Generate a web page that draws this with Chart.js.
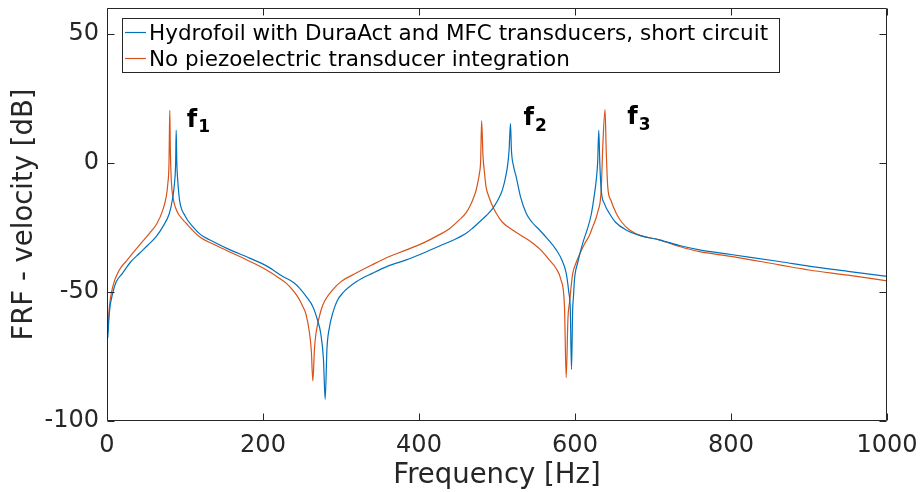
<!DOCTYPE html>
<html><head><meta charset="utf-8">
<script src="https://cdn.jsdelivr.net/npm/chart.js@4/dist/chart.umd.min.js"></script>
<style>html,body{margin:0;padding:0;background:#fff;}#wrap{width:922px;height:492px;}</style>
</head><body><div id="wrap"><canvas id="c" width="922" height="492"></canvas></div>
<script>
// ---- data ----
const seriesLabels = [
  'Hydrofoil with DuraAct and MFC transducers, short circuit',
  'No piezoelectric transducer integration'
];
const freqShort = [1,3,7.4,12,20,30,41.7,52,63,72,80,84,86.5,88,88.7,89.5,91,93,100,110,120,131.4,155,182.7,205,225.4,240,246.8,256,263.8,270,274,277.5,279.7,282,285,289.5,295,302.3,320,340.8,360,383.6,405,426.3,445,460.5,469,477,486,494.6,501,505,507.4,511,513.8,515.5,517.3,518.5,521,524.6,530,537.4,545,554.5,565,576,583,588.7,592,594,595.5,597,598,599.4,603.6,610,616,620.8,625,627.2,629,630.5,631.8,633.6,638,644,652,665.6,685,708,734,759.6,800,862,900,950,1000];
const dbShort   = [-67.8,-58,-50.4,-46,-42.7,-38.5,-35,-32,-28.6,-24.5,-19.5,-14,-8,0,12.6,0,-8,-14.4,-20.5,-24.7,-27.8,-29.8,-33.3,-36.9,-40,-44,-46.5,-48.5,-52,-55.6,-61,-66,-76,-91.6,-72,-64,-58.1,-53.5,-50.4,-46,-42.7,-40,-37.6,-35,-32.2,-29.8,-27.3,-25.2,-23,-20.5,-17.6,-14.5,-12,-10,-5.5,-0.5,5,15.3,5,-1,-5.4,-13,-19.5,-23,-26,-29.5,-33.7,-37.5,-42.7,-50,-57,-80,-57,-52,-45,-38.5,-31,-25.5,-20,-12,-6.7,0,12.6,0,-10.5,-16,-19.5,-23,-26,-28.3,-29.8,-32,-33.7,-35.5,-38.2,-40,-42,-44];
const freqNone = [1,3,7.4,16,25,33,44,54.5,64,71.5,76,78,79.5,80,80.5,81.2,82.5,84.4,88,92,101.5,118.6,140,161,182,204,220,229.7,240,246.8,251,255,259.6,262,263.9,266,268,274.6,280,289.5,300,319.5,340,362,383,405,425,439,452,460.5,466,470,473,475.5,477.5,479,480.3,482,484,486,490,494,499,507,520,533,546,557,567,576,582,586.5,588.7,591,593,597,601,605.8,612,618.6,622.8,629.2,633.6,635.6,638.5,640,642,646,652.8,660,670,685,708,734,759.6,800,862,900,950,1000];
const dbNone   = [-65.8,-56,-47.9,-41.4,-38,-35,-31,-27.3,-23.5,-18.3,-13,-8,0,11.4,20.3,5,-7,-13,-17.5,-20,-23.4,-28.6,-32,-35,-38,-41.4,-44.5,-46.6,-50,-53,-55.6,-58.5,-65.9,-73,-84.5,-72,-65.9,-56.9,-53,-49.1,-46,-42.7,-39.5,-36.3,-33.8,-31.1,-28,-25.5,-22,-19.3,-16.3,-13.5,-10.8,-7.5,-4,0.5,16.3,3,-4,-9.3,-13.5,-16.5,-19.5,-23,-26,-28.5,-31.1,-34,-37.6,-41,-45.3,-55.6,-83.2,-60,-54,-43,-39,-35.5,-31.5,-28,-24.7,-19,-10.5,6.2,20.6,5,-9.3,-14.5,-19.5,-23,-26,-28.3,-29.8,-32.4,-34.4,-36.2,-39.5,-41.5,-43.5,-45.7];
const xTicks = [0,200,400,600,800,1000];
const yTicks = [-100,-50,0,50];
const peakNames = ['1','2','3'];
const peakAnchorHz = [102.3,534,667];
const peakAnchorDb = [13.9,14.6,14.9];

// ---- styles ----
const FONT = "'DejaVu Sans', sans-serif";
const AX = '#262626';
const COLORS = ['#0072BD', '#D95319'];

const toXY = (xs, ys) => xs.map((x, i) => ({x, y: ys[i]}));
const noPad = s => { s.paddingLeft = 0; s.paddingRight = 0; s.paddingTop = 0; s.paddingBottom = 0; };

const framePlugin = {
  id: 'frame',
  afterDatasetsDraw(chart) {
    const {ctx, chartArea: a, scales: {x, y}} = chart;
    ctx.save();
    ctx.strokeStyle = AX; ctx.lineWidth = 1;
    const L = Math.round(a.left) + 0.5, R = Math.round(a.right) - 0.5;
    const T = Math.round(a.top) + 0.5, B = Math.round(a.bottom) - 0.5;
    ctx.beginPath();
    ctx.rect(L, T, R - L, B - T);
    const tl = 7;
    xTicks.forEach(v => {
      const px = Math.round(x.getPixelForValue(v)) + 0.5;
      ctx.moveTo(px, B); ctx.lineTo(px, B - tl);
      ctx.moveTo(px, T); ctx.lineTo(px, T + tl);
    });
    yTicks.forEach(v => {
      const py = Math.round(y.getPixelForValue(v)) + 0.5;
      ctx.moveTo(L, py); ctx.lineTo(L + tl, py);
      ctx.moveTo(R, py); ctx.lineTo(R - tl, py);
    });
    ctx.stroke();

    // legend box
    const lx = 122.5, ly = 18.5, lw = 657, lh = 54;
    ctx.fillStyle = '#fff';
    ctx.fillRect(lx, ly, lw, lh);
    ctx.strokeStyle = AX;
    ctx.strokeRect(lx, ly, lw, lh);
    const rows = [{line: 32.5, base: 40}, {line: 58.5, base: 66}];
    ctx.font = '21.5px ' + FONT;
    ctx.textBaseline = 'alphabetic';
    ctx.textAlign = 'left';
    chart.data.datasets.forEach((ds, i) => {
      ctx.strokeStyle = ds.borderColor; ctx.lineWidth = 1.2;
      ctx.beginPath(); ctx.moveTo(125, rows[i].line); ctx.lineTo(146, rows[i].line); ctx.stroke();
      ctx.fillStyle = '#000';
      ctx.fillText(ds.label, 149, rows[i].base);
    });

    // peak labels f1 f2 f3
    peakNames.forEach((n, i) => {
      const px = x.getPixelForValue(peakAnchorHz[i]);
      const py = y.getPixelForValue(peakAnchorDb[i]);
      ctx.fillStyle = '#000';
      ctx.font = 'bold 24px ' + FONT;
      ctx.fillText('f', px, py);
      const w = ctx.measureText('f').width;
      ctx.font = 'bold 17px ' + FONT;
      ctx.fillText(n, px + w + 1, py + 5.5);
    });
    ctx.restore();
  }
};

new Chart(document.getElementById('c'), {
  type: 'line',
  data: {
    datasets: [
      {label: seriesLabels[0], data: toXY(freqShort, dbShort), borderColor: COLORS[0], backgroundColor: COLORS[0]},
      {label: seriesLabels[1], data: toXY(freqNone, dbNone), borderColor: COLORS[1], backgroundColor: COLORS[1]}
    ]
  },
  options: {
    responsive: false,
    animation: false,
    devicePixelRatio: 1,
    layout: {padding: {left: 0, right: 35, top: 8, bottom: 0}},
    elements: {line: {borderWidth: 1.2, cubicInterpolationMode: 'monotone'}, point: {radius: 0}},
    plugins: {legend: {display: false}, tooltip: {enabled: false}},
    scales: {
      x: {
        type: 'linear', min: 0, max: 1000,
        grid: {display: false, drawTicks: false},
        border: {display: false},
        afterBuildTicks: s => { s.ticks = xTicks.map(v => ({value: v})); },
        afterFit: s => { s.height = 71; noPad(s); },
        ticks: {color: AX, font: {family: FONT, size: 24}, padding: 10, maxRotation: 0, callback: v => String(v)},
        title: {display: true, text: 'Frequency [Hz]', color: AX, font: {family: FONT, size: 27.5}, padding: {top: 0, bottom: 0}}
      },
      y: {
        type: 'linear', min: -100, max: 60,
        grid: {display: false, drawTicks: false},
        border: {display: false},
        afterBuildTicks: s => { s.ticks = yTicks.map(v => ({value: v})); },
        afterFit: s => { s.width = 107; noPad(s); },
        ticks: {color: AX, font: {family: FONT, size: 24}, padding: 8, callback: v => String(v)},
        title: {display: true, text: 'FRF - velocity [dB]', color: AX, font: {family: FONT, size: 27.5}, padding: {top: 8.5, bottom: 0}}
      }
    }
  },
  plugins: [framePlugin]
});
</script></body></html>
